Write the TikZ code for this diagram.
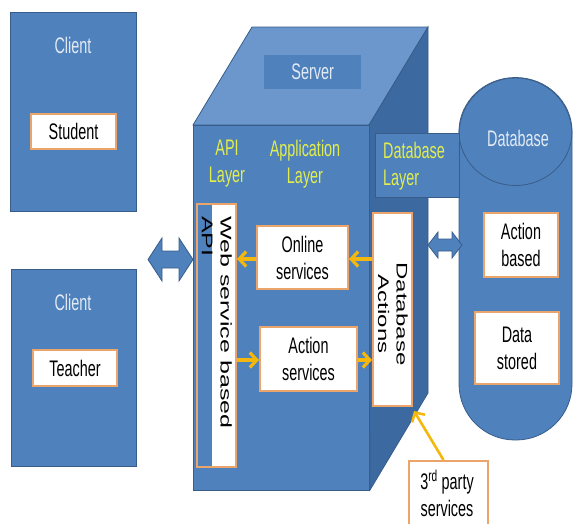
\documentclass[tikz,border=0pt]{standalone}
\usepackage{fontspec}
\setmainfont{Liberation Sans}[FakeStretch=0.64]
\newfontfamily\rotfont{Liberation Sans}
\usetikzlibrary{arrows.meta}
\definecolor{bfront}{HTML}{4F81BD}
\definecolor{btop}{HTML}{6B97CC}
\definecolor{bright}{HTML}{3D69A1}
\definecolor{bline}{HTML}{385D8A}
\definecolor{ltext}{HTML}{E2EAF4}
\definecolor{ytext}{HTML}{E2EE4C}
\definecolor{obord}{HTML}{EBA46A}
\definecolor{gold}{HTML}{F4B80C}
\begin{document}
\begin{tikzpicture}[x=1pt,y=-1pt,
  bigfont/.style={font=\fontsize{22.5}{27}\selectfont},
  bluebox/.style={draw=bline, line width=0.8pt, fill=bfront, inner sep=0, anchor=north west},
  whitebox/.style={draw=obord, line width=2pt, fill=white, inner sep=0, anchor=north west},
  lighttext/.style={bigfont, text=ltext, inner sep=0, align=center},
  yeltext/.style={bigfont, text=ytext, inner sep=0},
  blacktext/.style={bigfont, text=black, inner sep=0, align=center},
  flow/.style={draw=gold, line width=3.2pt, -{Straight Barb[length=7pt,width=15pt]}},
  dblarrow/.style={draw=bline, line width=0.8pt, fill=bfront}
]
\useasboundingbox (0,0) rectangle (573,523);

% clients
\node[bluebox, minimum width=126pt, minimum height=199pt] (client1) at (10,12) {};
\node[lighttext] (client1t) at (73,45) {Client};
\node[whitebox, minimum width=85pt, minimum height=35pt] (student) at (30,113) {};
\node[blacktext] at (student.center) {Student};

\node[bluebox, minimum width=125pt, minimum height=197pt] (client2) at (11,269) {};
\node[lighttext] (client2t) at (73,302) {Client};
\node[whitebox, minimum width=84pt, minimum height=36pt] (teacher) at (32,349) {};
\node[blacktext] at (teacher.center) {Teacher};

% server cube
\draw[bline, line width=0.8pt, fill=btop] (193,125) -- (252,27) -- (428,27) -- (369,125) -- cycle;
\draw[bline, line width=0.8pt, fill=bright] (369,125) -- (428,27) -- (428,393) -- (370,490) -- cycle;
\draw[bline, line width=0.8pt, fill=bfront] (193,125) rectangle (369,490);
\node[fill=bfront, minimum width=97pt, minimum height=34pt, inner sep=0, anchor=north west] (srvlbl) at (264,55) {};
\node[lighttext] at (srvlbl.center) {Server};

% database
\draw[bline, line width=0.8pt, fill=bfront, rounded corners=56pt] (459,78) rectangle (572,440);
\draw[bline, line width=0.8pt] (515.5,131.5) ellipse [x radius=56.5pt, y radius=54pt];
\node[lighttext] (dbt) at (518,138) {Database};
\node[whitebox, minimum width=74pt, minimum height=64pt] (actb) at (483,212) {};
\node[blacktext] at (actb.center) {Action\\based};
\node[whitebox, minimum width=84pt, minimum height=72pt] (datas) at (474,311) {};
\node[blacktext] at (datas.center) {Data\\stored};

% layer labels
\node[yeltext, align=center] (apil) at (227,164) {API\\Layer};
\node[yeltext, align=center] (appl) at (305,164) {Application\\Layer};
\node[bluebox, minimum width=84pt, minimum height=64pt] (dbl) at (375,133) {};
\node[yeltext, align=left, anchor=west] at (383,166) {Database\\Layer};

% API box
\fill[white] (212,203) rectangle (235,466);
\node[draw=obord, line width=2pt, inner sep=0, minimum width=39pt, minimum height=263pt, anchor=north west] (api) at (196,203) {};
\node[rotate=-90, anchor=west, inner sep=0] (apit) at (215,216)
  {\scalebox{1}[0.62]{\rotfont\fontsize{25}{30}\selectfont\begin{tabular}{@{}l@{}}Web service based\\API\end{tabular}}};

% application boxes
\node[whitebox, minimum width=91pt, minimum height=63pt] (online) at (256,225) {};
\node[blacktext] at (online.center) {Online\\services};
\node[whitebox, minimum width=97pt, minimum height=64pt] (action) at (259,326) {};
\node[blacktext] at (action.center) {Action\\services};

% database actions
\node[whitebox, minimum width=39pt, minimum height=193pt] (dbact) at (372,212) {};
\node[rotate=-90, inner sep=0] (dbactt) at (391,314)
  {\scalebox{1}[0.64]{\rotfont\fontsize{24}{29}\selectfont\begin{tabular}{@{}c@{}}Database\\Actions\end{tabular}}};

% third party
\node[whitebox, minimum width=79pt, minimum height=75pt] (third) at (408,460) {};
\node[blacktext] at (447,482) {3\textsuperscript{rd} party};
\node[blacktext] at (447,508) {services};

% flows
\coordinate (y1) at (0,259);
\coordinate (y2) at (0,360);
\draw[flow] (dbact.west |- y1) -- (online.east |- y1);
\draw[flow] (online.west |- y1) -- (api.east |- y1);
\draw[flow] (api.east |- y2) -- (action.west |- y2);
\draw[flow] (action.east |- y2) -- (dbact.west |- y2);
\draw[flow, line width=2.6pt] ([xshift=-5pt]third.north) -- ([yshift=-4pt,xshift=1pt]dbact.south east);

% double arrows
\draw[dblarrow] (148,259.5) -- (162,238) -- (162,251) -- (179,251) -- (179,238) -- (193,259.5)
  -- (179,281) -- (179,268) -- (162,268) -- (162,281) -- cycle;
\draw[dblarrow] (428,245) -- (438,232) -- (438,239) -- (452,239) -- (452,232) -- (462,245)
  -- (452,258) -- (452,251) -- (438,251) -- (438,258) -- cycle;
\end{tikzpicture}
\end{document}
